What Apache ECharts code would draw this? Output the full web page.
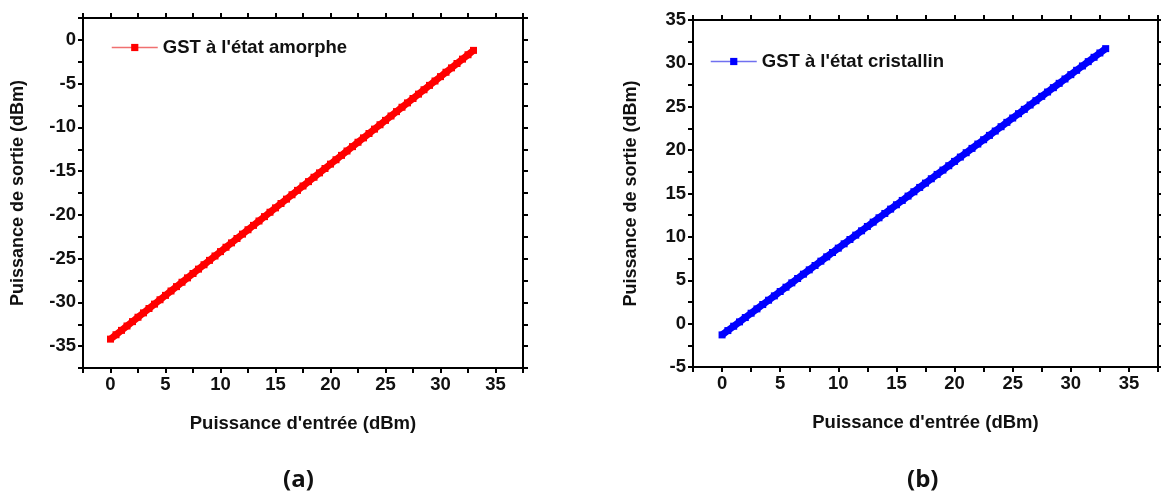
<!DOCTYPE html>
<html>
<head>
<meta charset="utf-8">
<script src="https://cdn.jsdelivr.net/npm/echarts@6/dist/echarts.min.js"></script>
<style>
html,body{margin:0;padding:0;background:#fff;}
#chart{width:1161px;height:501px;}
</style>
</head>
<body>
<div id="chart"></div>
<script>
// Input power (dBm)
const inputPower = [0,0.5,1,1.5,2,2.5,3,3.5,4,4.5,5,5.5,6,6.5,7,7.5,8,8.5,9,9.5,10,10.5,11,11.5,12,12.5,13,13.5,14,14.5,15,15.5,16,16.5,17,17.5,18,18.5,19,19.5,20,20.5,21,21.5,22,22.5,23,23.5,24,24.5,25,25.5,26,26.5,27,27.5,28,28.5,29,29.5,30,30.5,31,31.5,32,32.5,33];
// Output power, amorphous GST (dBm)
const outAmorphe = [-34.2,-33.7,-33.2,-32.7,-32.2,-31.7,-31.2,-30.7,-30.2,-29.7,-29.2,-28.7,-28.2,-27.7,-27.2,-26.7,-26.2,-25.7,-25.2,-24.7,-24.2,-23.7,-23.2,-22.7,-22.2,-21.7,-21.2,-20.7,-20.2,-19.7,-19.2,-18.7,-18.2,-17.7,-17.2,-16.7,-16.2,-15.7,-15.2,-14.7,-14.2,-13.7,-13.2,-12.7,-12.2,-11.7,-11.2,-10.7,-10.2,-9.7,-9.2,-8.7,-8.2,-7.7,-7.2,-6.7,-6.2,-5.7,-5.2,-4.7,-4.2,-3.7,-3.2,-2.7,-2.2,-1.7,-1.2];
// Output power, crystalline GST (dBm)
const outCristallin = [-1.3,-0.8,-0.3,0.2,0.7,1.2,1.7,2.2,2.7,3.2,3.7,4.2,4.7,5.2,5.7,6.2,6.7,7.2,7.7,8.2,8.7,9.2,9.7,10.2,10.7,11.2,11.7,12.2,12.7,13.2,13.7,14.2,14.7,15.2,15.7,16.2,16.7,17.2,17.7,18.2,18.7,19.2,19.7,20.2,20.7,21.2,21.7,22.2,22.7,23.2,23.7,24.2,24.7,25.2,25.7,26.2,26.7,27.2,27.7,28.2,28.7,29.2,29.7,30.2,30.7,31.2,31.7];

const seriesNames = ["GST à l'état amorphe", "GST à l'état cristallin"];
const xTitle = "Puissance d'entrée (dBm)";
const yTitle = "Puissance de sortie (dBm)";
const panelLabels = ["(a)", "(b)"];

const FONT = '"Liberation Sans", Arial, sans-serif';

function pairs(xs, ys){ return xs.map((x,i)=>[x, ys[i]]); }

function fmt5(v){
  const r = Math.round(v*1000)/1000;
  return (Math.abs(r % 5) < 1e-6) ? String(r) : '';
}

function mkX(grid, pos, show, range){
  return {
    type:'value', gridIndex:grid, position:pos,
    min:range[0], max:range[1], interval:2.5,
    name: show ? xTitle : '', nameLocation:'middle', nameGap:46,
    nameTextStyle:{fontFamily:FONT, fontWeight:'bold', fontSize:18.5, color:'#111'},
    axisLine:{show:true, onZero:false, lineStyle:{color:'#000', width:2}},
    axisTick:{show:true, inside:false, length:5, lineStyle:{color:'#000', width:2}},
    axisLabel:{show:show, formatter:fmt5, fontFamily:FONT, fontWeight:'bold', fontSize:18.5, color:'#111', margin:7},
    splitLine:{show:false}
  };
}
function mkY(grid, pos, show, range){
  return {
    type:'value', gridIndex:grid, position:pos,
    min:range[0], max:range[1], interval:2.5,
    name: show ? yTitle : '', nameLocation:'middle', nameGap: show ? (grid===0?56:53) : 0,
    nameTextStyle:{fontFamily:FONT, fontWeight:'bold', fontSize:18, color:'#111'},
    axisLine:{show:true, onZero:false, lineStyle:{color:'#000', width:2}},
    axisTick:{show:true, inside:false, length:5, lineStyle:{color:'#000', width:2}},
    axisLabel:{show:show, formatter:fmt5, fontFamily:FONT, fontWeight:'bold', fontSize:18.5, color:'#111', margin:7},
    splitLine:{show:false}
  };
}

const chart = echarts.init(document.getElementById('chart'), null, {renderer:'canvas'});
chart.setOption({
  backgroundColor:'#fff',
  animation:false,
  grid:[
    {left:83, top:18, width:440, height:350},
    {left:693, top:20, width:466, height:347}
  ],
  xAxis:[
    mkX(0,'bottom',true,[-2.5,37.5]),
    mkX(0,'top',false,[-2.5,37.5]),
    mkX(1,'bottom',true,[-2.5,37.5]),
    mkX(1,'top',false,[-2.5,37.5])
  ],
  yAxis:[
    mkY(0,'left',true,[-37.5,2.5]),
    mkY(0,'right',false,[-37.5,2.5]),
    mkY(1,'left',true,[-5,35]),
    mkY(1,'right',false,[-5,35])
  ],
  legend:[
    {data:[seriesNames[0]], left:106, top:33, itemWidth:46, itemHeight:9, itemGap:4,
     textStyle:{fontFamily:FONT, fontWeight:'bold', fontSize:18.5, color:'#111'},
     lineStyle:{width:1.5, color:'#f07070'}},
    {data:[seriesNames[1]], left:705, top:47, itemWidth:46, itemHeight:9, itemGap:4,
     textStyle:{fontFamily:FONT, fontWeight:'bold', fontSize:18.5, color:'#111'},
     lineStyle:{width:1.5, color:'#7070f0'}}
  ],
  series:[
    {name:seriesNames[0], type:'line', xAxisIndex:0, yAxisIndex:0,
     data:pairs(inputPower,outAmorphe), symbol:'rect', symbolSize:7,
     lineStyle:{color:'#ff0000', width:7}, itemStyle:{color:'#ff0000'}},
    {name:seriesNames[1], type:'line', xAxisIndex:2, yAxisIndex:2,
     data:pairs(inputPower,outCristallin), symbol:'rect', symbolSize:7,
     lineStyle:{color:'#0000ff', width:7}, itemStyle:{color:'#0000ff'}}
  ],
  graphic:[
    {type:'text', left:283, top:468, style:{text:panelLabels[0], font:'bold 24px "Open Sans", sans-serif', fill:'#111'}},
    {type:'text', left:907, top:468, style:{text:panelLabels[1], font:'bold 24px "Open Sans", sans-serif', fill:'#111'}}
  ]
});
</script>
</body>
</html>
